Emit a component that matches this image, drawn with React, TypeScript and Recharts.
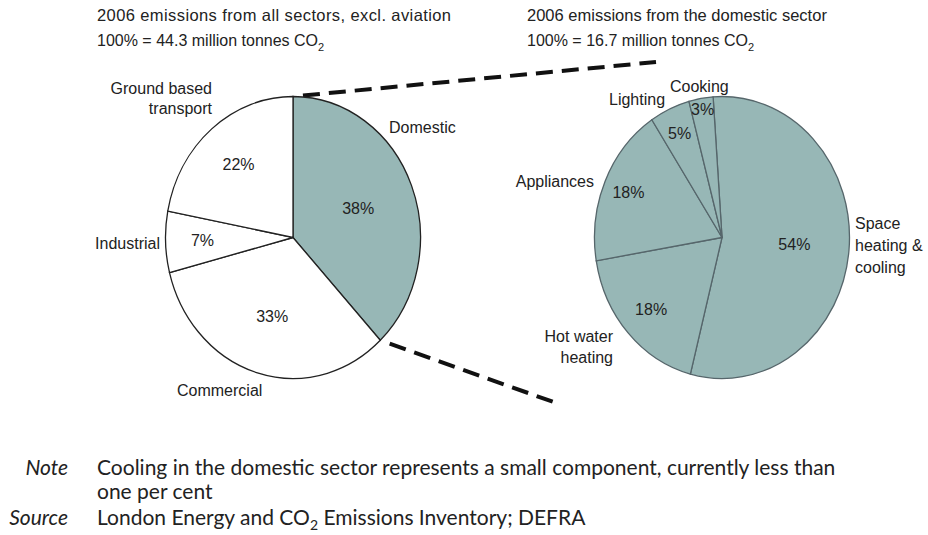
import React from "react";
import { PieChart, Pie, Cell, Customized } from "recharts";

// All sectors, 2006 (aviation excluded)
const sectorNames = ["Domestic", "Commercial", "Industrial", "Ground based transport"];
const sectorShares = [38, 33, 7, 22];

// Domestic sector breakdown, 2006
const domesticNames = ["Space heating & cooling", "Hot water heating", "Appliances", "Lighting", "Cooking"];
const domesticShares = [54, 18, 18, 5, 3];

const WIDTH = 928;
const HEIGHT = 420;
const CY = 237.5;
const RX = 127.5;
const RY = 141;
const SQUASH = RY / RX;
const LEFT_CX = 293;
const RIGHT_CX = 722;

const TEAL = "#97b7b6";
const INK = "#222";
const FONT = "'Liberation Sans', Arial, sans-serif";
const RAD = Math.PI / 180;

// how far out (fraction of radius) each percentage sits
const valueRadius: Record<string, number> = {
  Domestic: 0.55,
  Commercial: 0.585,
  Industrial: 0.71,
  "Ground based transport": 0.67,
  "Space heating & cooling": 0.57,
  "Hot water heating": 0.755,
  Appliances: 0.8,
  Lighting: 0.81,
  Cooking: 0.92,
};

type NameTag = { x: number; y: number; anchor: "start" | "end"; gap: number; lines: string[] };
const nameTags: Record<string, NameTag> = {
  Domestic: { x: 389, y: 133, anchor: "start", gap: 0, lines: ["Domestic"] },
  Commercial: { x: 177, y: 396, anchor: "start", gap: 0, lines: ["Commercial"] },
  Industrial: { x: 160, y: 249, anchor: "end", gap: 0, lines: ["Industrial"] },
  "Ground based transport": { x: 212, y: 94, anchor: "end", gap: 20, lines: ["Ground based", "transport"] },
  "Space heating & cooling": { x: 855, y: 229, anchor: "start", gap: 22, lines: ["Space", "heating &", "cooling"] },
  "Hot water heating": { x: 613, y: 342, anchor: "end", gap: 21, lines: ["Hot water", "heating"] },
  Appliances: { x: 594, y: 187, anchor: "end", gap: 0, lines: ["Appliances"] },
  Lighting: { x: 609, y: 105, anchor: "start", gap: 0, lines: ["Lighting"] },
  Cooking: { x: 670, y: 92, anchor: "start", gap: 0, lines: ["Cooking"] },
};

const sectorData = sectorNames.map((name, i) => ({ name, value: sectorShares[i] }));
const domesticData = domesticNames.map((name, i) => ({ name, value: domesticShares[i] }));

function renderLabel(props: any) {
  const { cx, cy, midAngle, outerRadius, value } = props;
  const name = props.name ?? props.payload?.name;
  const r = outerRadius * (valueRadius[name] ?? 0.6);
  const x = cx + r * Math.cos(-midAngle * RAD);
  const y = cy + r * SQUASH * Math.sin(-midAngle * RAD);
  const tag = nameTags[name];
  return (
    <g>
      <text x={x} y={y} textAnchor="middle" dominantBaseline="central" fontFamily={FONT} fontSize={16} fill={INK}>
        {value}%
      </text>
      {tag && (
        <text x={tag.x} y={tag.y} textAnchor={tag.anchor} fontFamily={FONT} fontSize={16} fill={INK}>
          {tag.lines.map((line, i) => (
            <tspan key={i} x={tag.x} dy={i === 0 ? 0 : tag.gap}>
              {line}
            </tspan>
          ))}
        </text>
      )}
    </g>
  );
}

// point on the left ellipse, angle measured clockwise from 12 o'clock
function rimPoint(deg: number) {
  return { x: LEFT_CX + RX * Math.sin(deg * RAD), y: CY - RY * Math.cos(deg * RAD) };
}

function connector(from: { x: number; y: number }, to: { x: number; y: number }) {
  const len = Math.hypot(to.x - from.x, to.y - from.y);
  const ux = (to.x - from.x) / len;
  const uy = (to.y - from.y) / len;
  return (
    <line
      x1={from.x + ux * 10}
      y1={from.y + uy * 10}
      x2={to.x}
      y2={to.y}
      stroke="#111"
      strokeWidth={4}
      strokeDasharray="17 9"
    />
  );
}

function Titles() {
  const total = sectorShares.reduce((a, b) => a + b, 0);
  const domesticEnd = (sectorShares[0] / total) * 360;
  return (
    <g fontFamily={FONT} fill={INK}>
      <text x={97} y={21} fontSize={16.5} letterSpacing={0.4}>
        2006 emissions from all sectors, excl. aviation
      </text>
      <text x={97} y={46} fontSize={16}>
        100% = 44.3 million tonnes CO<tspan dy={5} fontSize={11}>2</tspan>
      </text>
      <text x={527} y={21} fontSize={16.5}>
        2006 emissions from the domestic sector
      </text>
      <text x={527} y={46} fontSize={16}>
        100% = 16.7 million tonnes CO<tspan dy={5} fontSize={11}>2</tspan>
      </text>
      {connector(rimPoint(0), { x: 656, y: 62 })}
      {connector(rimPoint(domesticEnd), { x: 559, y: 404 })}
    </g>
  );
}

export default function App() {
  const ty = CY * (1 - SQUASH);
  return (
    <div style={{ position: "relative", width: WIDTH, height: 535, background: "#fff", overflow: "hidden" }}>
      <style>{`
        body { margin: 0; }
        .pies .recharts-sector {
          transform: matrix(1, 0, 0, ${SQUASH}, 0, ${ty});
          vector-effect: non-scaling-stroke;
        }
      `}</style>
      <div className="pies">
        <PieChart width={WIDTH} height={HEIGHT} margin={{ top: 0, right: 0, bottom: 0, left: 0 }}>
          <Pie
            data={sectorData}
            dataKey="value"
            nameKey="name"
            cx={LEFT_CX}
            cy={CY}
            outerRadius={RX}
            startAngle={90}
            endAngle={-270}
            stroke={INK}
            strokeWidth={1.3}
            label={renderLabel}
            labelLine={false}
            isAnimationActive={false}
          >
            {sectorData.map((d, i) => (
              <Cell key={d.name} fill={i === 0 ? TEAL : "#fff"} />
            ))}
          </Pie>
          <Pie
            data={domesticData}
            dataKey="value"
            nameKey="name"
            cx={RIGHT_CX}
            cy={CY}
            outerRadius={RX}
            startAngle={94}
            endAngle={-266}
            stroke="#56666b"
            strokeWidth={1.3}
            fill={TEAL}
            label={renderLabel}
            labelLine={false}
            isAnimationActive={false}
          >
            {domesticData.map((d) => (
              <Cell key={d.name} fill={TEAL} />
            ))}
          </Pie>
          <Customized component={<Titles />} />
        </PieChart>
      </div>
      <div
        style={{
          position: "absolute",
          top: 455,
          left: 0,
          fontFamily: "Lato, sans-serif",
          fontSize: 21,
          lineHeight: "24px",
          color: INK,
          whiteSpace: "nowrap",
        }}
      >
        <div style={{ display: "flex" }}>
          <div style={{ width: 68, textAlign: "right", fontStyle: "italic" }}>Note</div>
          <div style={{ marginLeft: 29 }}>
            Cooling in the domestic sector represents a small component, currently less than
            <br />
            one per cent
          </div>
        </div>
        <div style={{ display: "flex", marginTop: 2 }}>
          <div style={{ width: 68, textAlign: "right", fontStyle: "italic" }}>Source</div>
          <div style={{ marginLeft: 29 }}>
            London Energy and CO
            <span style={{ fontSize: 14, position: "relative", top: 5, lineHeight: 0 }}>2</span> Emissions
            Inventory; DEFRA
          </div>
        </div>
      </div>
    </div>
  );
}
